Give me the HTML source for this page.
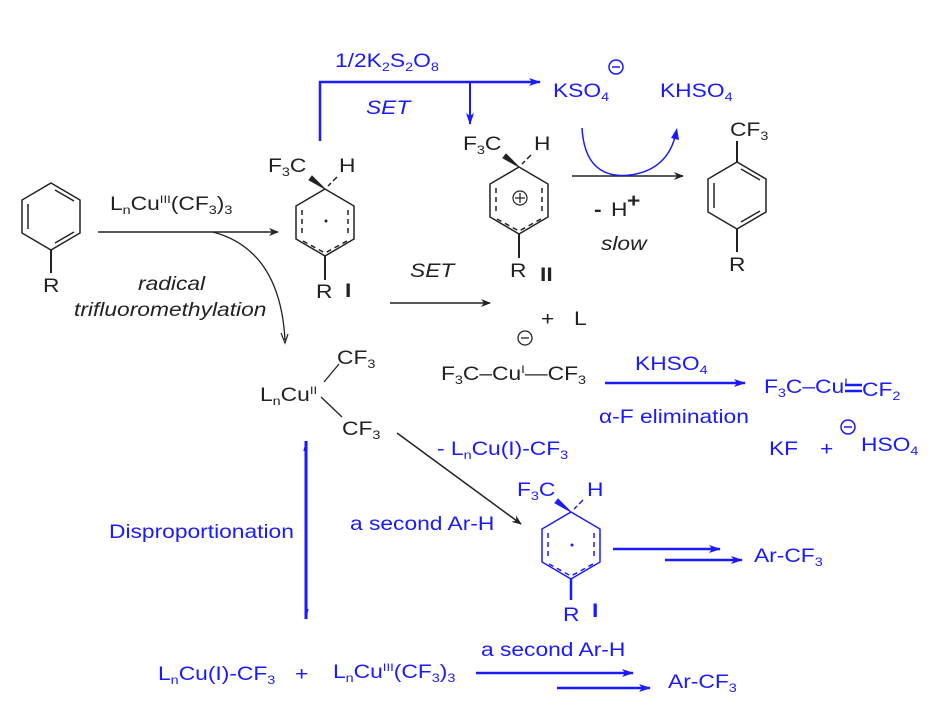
<!DOCTYPE html>
<html><head><meta charset="utf-8"><style>
html,body{margin:0;padding:0;background:#fff}
svg{display:block}
text{font-family:"Liberation Sans",Arial,sans-serif;font-size:19px;transform-box:fill-box;transform-origin:0 50%;transform:scaleX(1.2)}
.b{fill:#1a1aff}
.k{fill:#222}
.it{font-style:italic}
</style></head><body>
<svg width="947" height="724" viewBox="0 0 947 724" xmlns="http://www.w3.org/2000/svg">
<defs>
<marker id="ak" markerWidth="10" markerHeight="8" refX="9" refY="4" orient="auto" markerUnits="userSpaceOnUse"><path d="M0,0 L10,4 L0,8 L3,4z" fill="#222"/></marker>
<marker id="ab" markerWidth="12" markerHeight="8" refX="11" refY="4" orient="auto" markerUnits="userSpaceOnUse"><path d="M0,0 L12,4 L0,8 L3,4z" fill="#1a1aff"/></marker>
</defs>

<!-- benzene 1 -->
<g stroke="#222" stroke-width="1.5" fill="none">
<polygon points="51,183 80,200 80,233 51,250 22,233 22,200"/>
<line x1="28" y1="204" x2="28" y2="229"/><line x1="55" y1="190" x2="74" y2="201"/><line x1="74" y1="232" x2="55" y2="243"/>
<line x1="51" y1="250" x2="51" y2="273" stroke-width="2"/>
</g>
<text x="43" y="292" class="k">R</text>

<!-- arrow 1 -->
<line x1="98" y1="232" x2="278" y2="232" stroke="#222" stroke-width="1.5" marker-end="url(#ak)"/>
<text x="110" y="210" class="k">L<tspan font-size="12" dy="4">n</tspan><tspan dy="-4">Cu</tspan><tspan font-size="11" dy="-7">III</tspan><tspan dy="7">(CF</tspan><tspan font-size="12" dy="4">3</tspan><tspan dy="-4">)</tspan><tspan font-size="12" dy="4">3</tspan></text>
<path d="M213,232 Q280,250 285,340" stroke="#222" stroke-width="1.3" fill="none"/>
<path d="M281,333 L285,343 L288,334" stroke="#222" stroke-width="1.2" fill="none"/>
<text x="138" y="290" class="k it">radical</text>
<text x="74" y="316" class="k it">trifluoromethylation</text>

<!-- intermediate I -->
<g stroke="#222" stroke-width="1.5" fill="none">
<polygon points="325,189 354,206 354,239 325,256 296,239 296,206"/>
<path d="M302,210 L302,235 M348,210 L348,235 M303,241 L325,253 L347,241" stroke-dasharray="5,4"/>
<path d="M325,189 L312,176 L309,180z" fill="#222" stroke-width="1"/>
<path d="M328,186 L331,183 M333,181 L337,177" />
<line x1="325" y1="256" x2="325" y2="280" stroke-width="2"/>
</g>
<circle cx="326" cy="221" r="1.5" fill="#222"/>
<text x="268" y="172" class="k">F<tspan font-size="12" dy="4">3</tspan><tspan dy="-4">C</tspan></text>
<text x="339" y="172" class="k">H</text>
<text x="316" y="298" class="k">R</text>
<text x="345" y="297" class="k" font-weight="bold">I</text>

<!-- blue SET bracket -->
<path d="M320,141 L320,82 L540,82" stroke="#1a1aff" stroke-width="2.5" fill="none" marker-end="url(#ab)"/>
<line x1="470" y1="82" x2="470" y2="124" stroke="#1a1aff" stroke-width="2" marker-end="url(#ab)"/>
<text x="335" y="67" class="b">1/2K<tspan font-size="12" dy="4">2</tspan><tspan dy="-4">S</tspan><tspan font-size="12" dy="4">2</tspan><tspan dy="-4">O</tspan><tspan font-size="12" dy="4">8</tspan></text>
<text x="366" y="114" class="b it">SET</text>
<text x="553" y="97" class="b">KSO<tspan font-size="12" dy="4">4</tspan></text>
<circle cx="616" cy="67" r="7" fill="none" stroke="#1a1aff" stroke-width="1.5"/><line x1="612" y1="67" x2="620" y2="67" stroke="#1a1aff" stroke-width="1.5"/>
<text x="660" y="97" class="b">KHSO<tspan font-size="12" dy="4">4</tspan></text>

<!-- intermediate II -->
<g stroke="#222" stroke-width="1.5" fill="none">
<polygon points="519,167 548,184 548,217 519,234 490,217 490,184"/>
<path d="M496,188 L496,213 M542,188 L542,213 M497,219 L519,231 L541,219" stroke-dasharray="5,4"/>
<path d="M519,167 L506,154 L503,158z" fill="#222" stroke-width="1"/>
<path d="M522,164 L525,161 M527,159 L531,155"/>
<line x1="519" y1="234" x2="519" y2="258" stroke-width="2"/>
<circle cx="520" cy="198" r="7" stroke-width="1.2"/>
<path d="M515,198 L525,198 M520,193 L520,203" stroke-width="1.2"/>
</g>
<text x="463" y="150" class="k">F<tspan font-size="12" dy="4">3</tspan><tspan dy="-4">C</tspan></text>
<text x="534" y="150" class="k">H</text>
<text x="510" y="277" class="k">R</text>
<text x="540" y="281" class="k" font-weight="bold">II</text>

<!-- deprotonation -->
<line x1="572" y1="176" x2="683" y2="176" stroke="#222" stroke-width="1.5" marker-end="url(#ak)"/>
<path d="M582,128 Q585,180 630,175 Q668,170 676,133" stroke="#1a1aff" stroke-width="1.5" fill="none"/>
<path d="M671,138 L677,128 L679,140z" fill="#1a1aff"/>
<text x="594" y="216" class="k" font-weight="bold">-</text><text x="611" y="216" class="k">H</text><text x="627" y="207" class="k" font-weight="bold" font-size="20">+</text>
<text x="601" y="250" class="k it">slow</text>

<!-- product -->
<g stroke="#222" stroke-width="1.5" fill="none">
<polygon points="737,162 766,179 766,212 737,229 708,212 708,179"/>
<line x1="714" y1="183" x2="714" y2="208"/><line x1="741" y1="169" x2="760" y2="180"/><line x1="760" y1="211" x2="741" y2="222"/>
<line x1="737" y1="162" x2="737" y2="141" stroke-width="2"/>
<line x1="737" y1="229" x2="737" y2="252" stroke-width="2"/>
</g>
<text x="730" y="136" class="k">CF<tspan font-size="12" dy="4">3</tspan></text>
<text x="729" y="271" class="k">R</text>

<!-- SET 2 -->
<text x="410" y="277" class="k it">SET</text>
<line x1="390" y1="303" x2="490" y2="303" stroke="#222" stroke-width="1.5" marker-end="url(#ak)"/>
<text x="541" y="325" class="k">+</text><text x="574" y="325" class="k">L</text>
<circle cx="525" cy="338" r="7" fill="none" stroke="#222" stroke-width="1.3"/><line x1="521" y1="338" x2="529" y2="338" stroke="#222" stroke-width="1.3"/>
<text x="441" y="380" class="k">F<tspan font-size="12" dy="4">3</tspan><tspan dy="-4">C–Cu</tspan><tspan font-size="11" dy="-7">I</tspan><tspan dy="7">—CF</tspan><tspan font-size="12" dy="4">3</tspan></text>

<!-- LnCuII -->
<text x="260" y="401" class="k">L<tspan font-size="12" dy="4">n</tspan><tspan dy="-4">Cu</tspan><tspan font-size="11" dy="-7">II</tspan></text>
<text x="337" y="364" class="k">CF<tspan font-size="12" dy="4">3</tspan></text>
<text x="342" y="435" class="k">CF<tspan font-size="12" dy="4">3</tspan></text>
<line x1="324" y1="382" x2="339" y2="364" stroke="#222" stroke-width="1.3"/>
<line x1="321" y1="397" x2="342" y2="417" stroke="#222" stroke-width="1.3"/>

<!-- KHSO4 elimination -->
<line x1="605" y1="383" x2="745" y2="383" stroke="#1a1aff" stroke-width="2.5" marker-end="url(#ab)"/>
<text x="635" y="370" class="b">KHSO<tspan font-size="12" dy="4">4</tspan></text>
<text x="599" y="423" class="b">α-F elimination</text>
<text x="764" y="393" class="b">F<tspan font-size="12" dy="4">3</tspan><tspan dy="-4">C–Cu</tspan><tspan font-size="11" dy="-7">I</tspan></text>
<line x1="845" y1="385" x2="862" y2="385" stroke="#1a1aff" stroke-width="2.5"/><line x1="845" y1="391" x2="862" y2="391" stroke="#1a1aff" stroke-width="2.5"/>
<text x="862" y="396" class="b">CF<tspan font-size="12" dy="4">2</tspan></text>
<text x="769" y="455" class="b">KF</text><text x="820" y="455" class="b">+</text>
<circle cx="848" cy="427" r="7" fill="none" stroke="#1a1aff" stroke-width="1.5"/><line x1="844" y1="427" x2="852" y2="427" stroke="#1a1aff" stroke-width="1.5"/>
<text x="861" y="451" class="b">HSO<tspan font-size="12" dy="4">4</tspan></text>

<!-- second Ar-H -->
<line x1="397" y1="433" x2="521" y2="524" stroke="#222" stroke-width="1.5" marker-end="url(#ak)"/>
<text x="437" y="455" class="b">- L<tspan font-size="12" dy="4">n</tspan><tspan dy="-4">Cu(I)-CF</tspan><tspan font-size="12" dy="4">3</tspan></text>
<text x="350" y="530" class="b">a second Ar-H</text>

<!-- disproportionation -->
<line x1="306" y1="441" x2="306" y2="619" stroke="#1a1aff" stroke-width="3"/>
<path d="M307,441 L304,451 M305,619 L308,609" stroke="#1a1aff" stroke-width="1.5"/>
<text x="109" y="538" class="b">Disproportionation</text>

<!-- blue intermediate I -->
<g stroke="#1a1aff" stroke-width="1.5" fill="none">
<polygon points="571,512 600,529 600,562 571,579 542,562 542,529"/>
<path d="M548,533 L548,558 M594,533 L594,558 M549,564 L571,576 L593,564" stroke-dasharray="5,4"/>
<path d="M571,512 L558,499 L555,503z" fill="#1a1aff" stroke-width="1"/>
<path d="M574,509 L577,506 M579,504 L583,500"/>
<line x1="571" y1="579" x2="571" y2="600" stroke-width="2.5"/>
</g>
<circle cx="572" cy="545" r="1.5" fill="#1a1aff"/>
<text x="517" y="496" class="b">F<tspan font-size="12" dy="4">3</tspan><tspan dy="-4">C</tspan></text>
<text x="587" y="496" class="b">H</text>
<text x="563" y="621" class="b">R</text>
<text x="592" y="617" class="b" font-weight="bold">I</text>
<line x1="613" y1="549" x2="720" y2="549" stroke="#1a1aff" stroke-width="2.5" marker-end="url(#ab)"/>
<line x1="665" y1="560" x2="742" y2="560" stroke="#1a1aff" stroke-width="2.5" marker-end="url(#ab)"/>
<text x="754" y="562" class="b">Ar-CF<tspan font-size="12" dy="4">3</tspan></text>

<!-- bottom -->
<text x="158" y="680" class="b">L<tspan font-size="12" dy="4">n</tspan><tspan dy="-4">Cu(I)-CF</tspan><tspan font-size="12" dy="4">3</tspan></text>
<text x="295" y="680" class="b">+</text>
<text x="333" y="678" class="b">L<tspan font-size="12" dy="4">n</tspan><tspan dy="-4">Cu</tspan><tspan font-size="11" dy="-7">III</tspan><tspan dy="7">(CF</tspan><tspan font-size="12" dy="4">3</tspan><tspan dy="-4">)</tspan><tspan font-size="12" dy="4">3</tspan></text>
<text x="481" y="656" class="b">a second Ar-H</text>
<line x1="476" y1="673" x2="633" y2="673" stroke="#1a1aff" stroke-width="2.5" marker-end="url(#ab)"/>
<line x1="557" y1="688" x2="650" y2="688" stroke="#1a1aff" stroke-width="2.5" marker-end="url(#ab)"/>
<text x="668" y="688" class="b">Ar-CF<tspan font-size="12" dy="4">3</tspan></text>
</svg>
</body></html>
